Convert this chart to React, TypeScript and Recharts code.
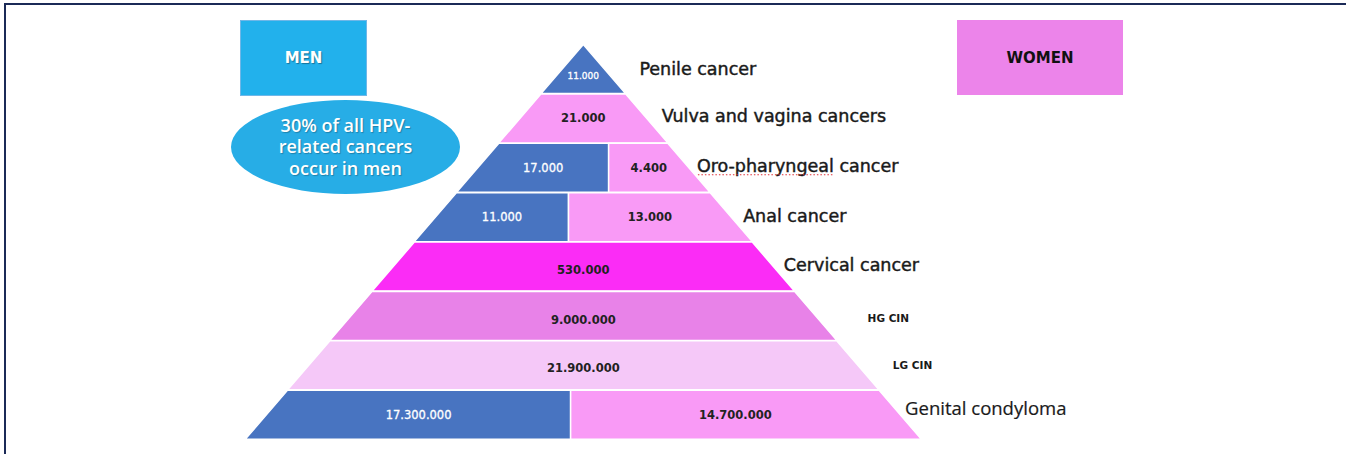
import React from "react";
import { BarChart, Bar, XAxis, YAxis, LabelList } from "recharts";

// pyramid tiers, top to bottom
const causes = [
  "Penile cancer",
  "Vulva and vagina cancers",
  "Oro-pharyngeal cancer",
  "Anal cancer",
  "Cervical cancer",
  "HG CIN",
  "LG CIN",
  "Genital condyloma",
];
const menCases = ["11.000", "", "17.000", "11.000", "", "", "", "17.300.000"];
const womenCases = ["", "21.000", "4.400", "13.000", "530.000", "9.000.000", "21.900.000", "14.700.000"];
// part of each tier drawn in the men colour
const menShare = [1, 0, 0.62, 0.45, 0, 0, 0, 0.48];

const MEN_COLOR = "#4874c1";
const womenColors = ["#f99af6", "#f99af6", "#f99af6", "#f99af6", "#fb2cf6", "#e882e8", "#f5c8f8", "#f99af6"];

const W = 1346;
const H = 454;
const TIERS = causes.length;
const MARGIN = { top: 44.5, bottom: 14.5, left: 245.4, right: 424.8 };
const UNIT = (W - MARGIN.left - MARGIN.right) / TIERS;
const SLANT = UNIT / 4;

const FONT = "'DejaVu Sans', sans-serif";

const valueStyle = [
  { size: 9, dy: 7 },
  { size: 11.5, dy: 0 },
  { size: 11.5, dy: 0 },
  { size: 11.5, dy: 0 },
  { size: 11.5, dy: 3 },
  { size: 11.5, dy: 4 },
  { size: 11.5, dy: 3 },
  { size: 11.5, dy: 0 },
];

const labelStyle = [
  { dx: 35, dy: 0, size: 17.5, weight: 400, family: FONT, bold: 0.45 },
  { dx: 15, dy: -2.5, size: 17.5, weight: 400, family: FONT, bold: 0.45 },
  { dx: 8, dy: -2, size: 17.5, weight: 400, family: FONT, bold: 0.45 },
  { dx: 12, dy: -1.5, size: 17.5, weight: 400, family: FONT, bold: 0.45 },
  { dx: 10.5, dy: -1.5, size: 17.5, weight: 400, family: FONT, bold: 0.45 },
  { dx: 52, dy: 2, size: 10.5, weight: 700, family: FONT, bold: 0 },
  { dx: 35, dy: 0, size: 10.5, weight: 700, family: FONT, bold: 0 },
  { dx: 5, dy: -7, size: 18.5, weight: 400, family: "'Open Sans', sans-serif", bold: 0.2 },
];

const data = causes.map((cause, i) => {
  const span = i + 0.5; // tier width at its middle, in tier units
  return {
    cause,
    lead: (TIERS - span) / 2,
    men: span * menShare[i],
    women: span * (1 - menShare[i]),
    rest: (TIERS - span) / 2,
  };
});

function Segment(props: any) {
  const { x, y, width, height, index, side } = props;
  if (!width || width <= 0) return null;
  const share = menShare[index];
  const leftOuter = side === "men" || share === 0;
  const rightOuter = side === "women" || share === 1;
  const l = leftOuter ? SLANT : 0;
  const r = rightOuter ? SLANT : 0;
  const pts = [
    [x + l, y],
    [x + width - r, y],
    [x + width + r, y + height],
    [x - l, y + height],
  ]
    .map((p) => p.join(","))
    .join(" ");
  const fill = side === "men" ? MEN_COLOR : womenColors[index];
  const text = side === "men" ? menCases[index] : womenCases[index];
  const vs = valueStyle[index];
  const isMen = side === "men";
  return (
    <g>
      <polygon points={pts} fill={fill} stroke="#ffffff" strokeWidth={1.5} />
      <text
        x={x + width / 2}
        y={y + height / 2 + vs.dy}
        textAnchor="middle"
        dominantBaseline="central"
        fontFamily={FONT}
        fontSize={vs.size}
        fontWeight={isMen ? 400 : 700}
        fill={isMen ? "#ffffff" : "#222222"}
        stroke={isMen ? "#ffffff" : "none"}
        strokeWidth={isMen ? 0.3 : 0}
      >
        {text}
      </text>
    </g>
  );
}

function CauseLabel(props: any) {
  const { x, y, height, index } = props;
  const st = labelStyle[index];
  const tx = x + st.dx;
  const ty = y + height / 2 + st.dy;
  return (
    <g>
      <text
        x={tx}
        y={ty}
        dominantBaseline="central"
        fontFamily={st.family}
        fontSize={st.size}
        fontWeight={st.weight}
        fill="#1a1a1a"
        stroke="#1a1a1a"
        strokeWidth={st.bold}
      >
        {causes[index]}
      </text>
      {index === 2 && (
        <line
          x1={tx + 1}
          x2={tx + 136}
          y1={ty + 9}
          y2={ty + 9}
          stroke="#e0303a"
          strokeWidth={1.2}
          strokeDasharray="1.5 2"
        />
      )}
    </g>
  );
}

export default function App() {
  return (
    <div style={{ position: "absolute", left: 0, top: 0, width: W, height: H, background: "#fff" }}>
      <div style={{ position: "absolute", left: 4, top: 3, width: W - 4, height: 2, background: "#1b2a57" }} />
      <div style={{ position: "absolute", left: 4, top: 3, width: 2, height: H - 3, background: "#1b2a57" }} />

      <div
        style={{
          position: "absolute",
          left: 240,
          top: 20,
          width: 127,
          height: 76,
          background: "#22b1ec",
          border: "1px solid #6fb7e8",
          boxSizing: "border-box",
          display: "flex",
          alignItems: "center",
          justifyContent: "center",
          color: "#fff",
          fontFamily: FONT,
          fontWeight: 700,
          fontSize: 15,
          textShadow: "1px 1px 1px rgba(0,0,0,0.35)",
        }}
      >
        MEN
      </div>
      <div
        style={{
          position: "absolute",
          left: 957,
          top: 20,
          width: 166,
          height: 75,
          background: "#ec84ea",
          display: "flex",
          alignItems: "center",
          justifyContent: "center",
          color: "#111",
          fontFamily: FONT,
          fontWeight: 700,
          fontSize: 15,
        }}
      >
        WOMEN
      </div>
      <div
        style={{
          position: "absolute",
          left: 231,
          top: 100,
          width: 229,
          height: 94,
          borderRadius: "50%",
          background: "#27ade6",
          display: "flex",
          alignItems: "center",
          justifyContent: "center",
          textAlign: "center",
          color: "#fff",
          fontFamily: "'Open Sans', sans-serif",
          fontWeight: 600,
          fontSize: 18,
          lineHeight: "21.5px",
          textShadow: "1px 1px 1px rgba(0,0,0,0.25)",
        }}
      >
        30% of all HPV-
        <br />
        related cancers
        <br />
        occur in men
      </div>

      <div style={{ position: "absolute", left: 0, top: 0 }}>
        <BarChart
          width={W}
          height={H}
          data={data}
          layout="vertical"
          margin={MARGIN}
          barCategoryGap={0}
          barGap={0}
        >
          <XAxis type="number" domain={[0, TIERS]} hide />
          <YAxis type="category" dataKey="cause" hide />
          <Bar dataKey="lead" stackId="p" fill="transparent" isAnimationActive={false} />
          <Bar
            dataKey="men"
            stackId="p"
            isAnimationActive={false}
            shape={(p: any) => <Segment {...p} side="men" />}
          />
          <Bar
            dataKey="women"
            stackId="p"
            isAnimationActive={false}
            shape={(p: any) => <Segment {...p} side="women" />}
          />
          <Bar dataKey="rest" stackId="p" fill="transparent" isAnimationActive={false}>
            <LabelList dataKey="cause" content={(p: any) => <CauseLabel {...p} />} />
          </Bar>
        </BarChart>
      </div>
    </div>
  );
}
